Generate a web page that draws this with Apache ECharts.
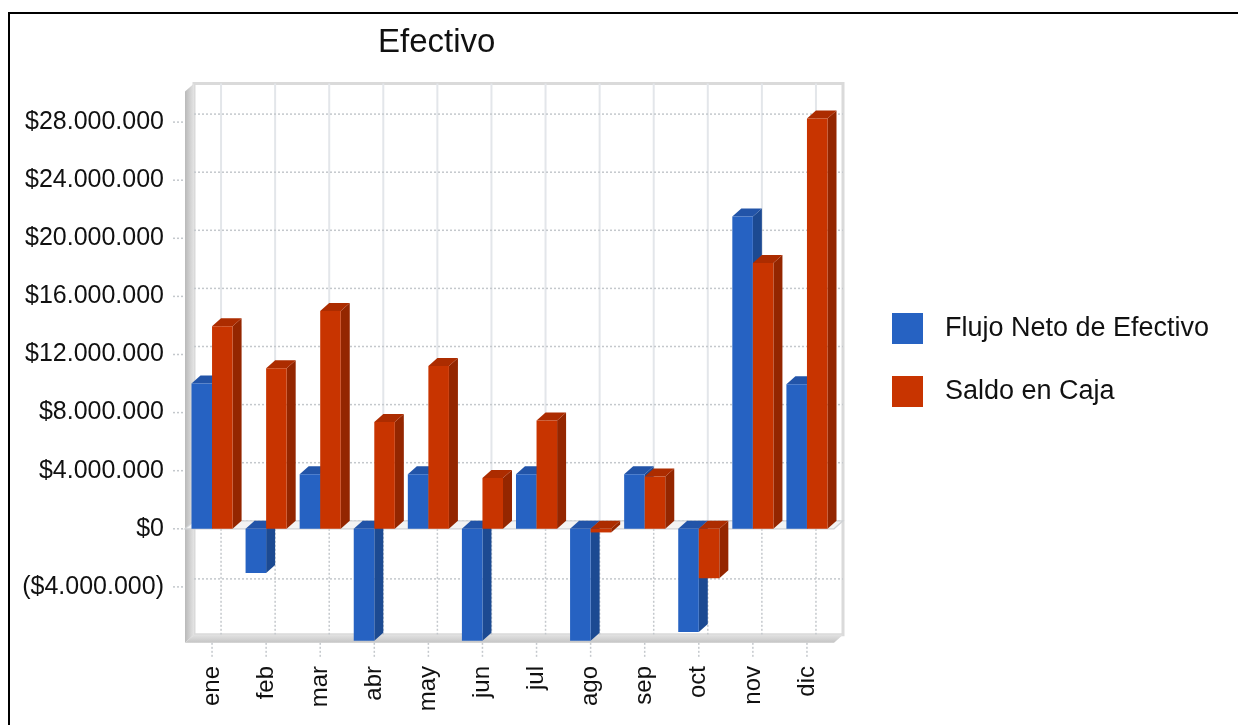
<!DOCTYPE html>
<html>
<head>
<meta charset="utf-8">
<script src="https://cdn.jsdelivr.net/npm/echarts@6/dist/echarts.min.js"></script>
<style>
  html, body { margin: 0; padding: 0; background: #fff; }
  #chart { width: 1238px; height: 725px; }
</style>
</head>
<body>
<div id="chart"></div>
<script>
// Monthly cash figures (pesos)
const months = ['ene', 'feb', 'mar', 'abr', 'may', 'jun', 'jul', 'ago', 'sep', 'oct', 'nov', 'dic'];
const flujoNeto = [10000000, -3050000, 3750000, -7700000, 3750000, -7700000, 3750000, -7700000, 3750000, -7100000, 21500000, 9950000];
const saldoCaja = [13950000, 11050000, 15000000, 7350000, 11200000, 3500000, 7450000, -250000, 3600000, -3400000, 18300000, 28250000];
const yTicks = [-4000000, 0, 4000000, 8000000, 12000000, 16000000, 20000000, 24000000, 28000000];

const FONT = "'Liberation Sans', Arial, sans-serif";
const DX = 9, DY = 8;                 // depth offset of the pseudo-3D box
const WALL_TOP = 30100000, WALL_BOTTOM = -7850000;

function money(v) {
  const s = Math.abs(v).toString().replace(/\B(?=(\d{3})+(?!\d))/g, '.');
  return v < 0 ? '($' + s + ')' : '$' + s;
}

// Walls, floor, zero plane and grid lines of the box
function frameItem(params, api) {
  const band = api.size([1, 0])[0];
  const xl = api.coord([0, 0])[0] - band / 2;
  const xr = api.coord([months.length - 1, 0])[0] + band / 2;
  const yt = api.coord([0, WALL_TOP])[1];
  const yb = api.coord([0, WALL_BOTTOM])[1];
  const y0 = api.coord([0, 0])[1];
  const dotted = { stroke: '#c4c8cc', lineWidth: 1.5, lineDash: [2, 2] };
  const kids = [];
  kids.push({ type: 'rect', shape: { x: xl + DX, y: yt - DY, width: xr - xl, height: yb - yt },
    style: { fill: '#ffffff', stroke: '#dadada', lineWidth: 3 } });
  months.forEach((m, i) => {
    const x = api.coord([i, 0])[0];
    kids.push({ type: 'line', shape: { x1: x + DX, y1: yt - DY, x2: x + DX, y2: y0 - DY },
      style: { stroke: '#e3e6ea', lineWidth: 2 } });
    kids.push({ type: 'line', shape: { x1: x + DX, y1: y0 - DY, x2: x + DX, y2: yb - DY }, style: dotted });
    kids.push({ type: 'line', shape: { x1: x, y1: yb, x2: x, y2: yb + 15 }, style: dotted });
  });
  yTicks.forEach(v => {
    const y = api.coord([0, v])[1];
    kids.push({ type: 'line', shape: { x1: xl + DX, y1: y - DY, x2: xr + DX, y2: y - DY }, style: dotted });
    kids.push({ type: 'line', shape: { x1: xl - 12, y1: y, x2: xl, y2: y }, style: dotted });
  });
  kids.push({ type: 'polygon', shape: { points: [[xl, yt], [xl + DX, yt - DY], [xl + DX, yb - DY], [xl, yb]] },
    style: { fill: new echarts.graphic.LinearGradient(0, 0, 1, 0, [
      { offset: 0, color: '#b9b9b9' }, { offset: 1, color: '#e4e4e4' }]) } });
  kids.push({ type: 'polygon', shape: { points: [[xl, yb], [xl + DX, yb - DY], [xr + DX, yb - DY], [xr, yb]] },
    style: { fill: new echarts.graphic.LinearGradient(0, 0, 0, 1, [
      { offset: 0, color: '#e2e2e2' }, { offset: 1, color: '#c4c4c4' }]) } });
  kids.push({ type: 'polygon', shape: { points: [[xl, y0], [xl + DX, y0 - DY], [xr + DX, y0 - DY], [xr, y0]] },
    style: { fill: '#f3f3f3', stroke: '#cfd2d5', lineWidth: 1.2 } });
  return { type: 'group', children: kids };
}

// One pseudo-3D bar: front face, right side and top
function barRenderer(side, c) {
  return function (params, api) {
    const i = api.value(0), v = api.value(1);
    const band = api.size([1, 0])[0];
    const w = band * 0.38;
    const base = api.coord([i, 0]);
    const tip = api.coord([i, v]);
    const x0 = side < 0 ? base[0] - w : base[0];
    const x1 = x0 + w;
    const yU = Math.min(base[1], tip[1]);
    const yL = Math.max(base[1], tip[1]);
    return { type: 'group', children: [
      { type: 'polygon', shape: { points: [[x1, yU], [x1 + DX, yU - DY], [x1 + DX, yL - DY], [x1, yL]] },
        style: { fill: c.side } },
      { type: 'polygon', shape: { points: [[x0, yU], [x0 + DX, yU - DY], [x1 + DX, yU - DY], [x1, yU]] },
        style: { fill: c.top } },
      { type: 'rect', shape: { x: x0, y: yU, width: w, height: Math.max(yL - yU, 0.5) },
        style: { fill: c.front } }
    ] };
  };
}

const BLUE = { front: '#2662c2', side: '#1c4a92', top: '#2254a8' };
const RED = { front: '#c83400', side: '#942600', top: '#ac2c00' };

const chart = echarts.init(document.getElementById('chart'), null, { renderer: 'canvas' });
chart.setOption({
  animation: false,
  backgroundColor: '#ffffff',
  textStyle: { fontFamily: FONT },
  title: {
    text: 'Efectivo', left: 373, top: 21,
    textStyle: { fontFamily: FONT, fontSize: 33, fontWeight: 'normal', color: '#111' }
  },
  legend: {
    orient: 'vertical', left: 892, top: 313, padding: 0,
    icon: 'rect', itemWidth: 31, itemHeight: 31, itemGap: 32,
    data: ['Flujo Neto de Efectivo', 'Saldo en Caja'],
    textStyle: { fontFamily: FONT, fontSize: 27, color: '#111', padding: [4, 0, 0, 17] }
  },
  grid: { left: 185, right: 404, top: 64, bottom: 80 },
  xAxis: {
    type: 'category', data: months,
    axisLine: { show: false }, axisTick: { show: false }, splitLine: { show: false },
    axisLabel: { rotate: 90, fontSize: 24, margin: 21, color: '#111', fontFamily: FONT }
  },
  yAxis: {
    type: 'value', min: -8000000, max: 32000000, interval: 4000000,
    axisLine: { show: false }, axisTick: { show: false }, splitLine: { show: false },
    axisLabel: {
      fontSize: 25, margin: 21, color: '#111', fontFamily: FONT,
      formatter: v => (yTicks.indexOf(v) >= 0 ? money(v) : '')
    }
  },
  series: [
    { type: 'custom', name: 'frame', silent: true, z: 1, renderItem: frameItem, data: [[0, 0]],
      encode: { x: 0, y: 1 } },
    { type: 'custom', name: 'Flujo Neto de Efectivo', z: 2, itemStyle: { color: BLUE.front },
      renderItem: barRenderer(-1, BLUE), encode: { x: 0, y: 1 },
      data: flujoNeto.map((v, i) => [i, v]) },
    { type: 'custom', name: 'Saldo en Caja', z: 3, itemStyle: { color: RED.front },
      renderItem: barRenderer(1, RED), encode: { x: 0, y: 1 },
      data: saldoCaja.map((v, i) => [i, v]) }
  ],
  graphic: [{
    type: 'rect', z: 100, silent: true,
    shape: { x: 9, y: 13, width: 1400, height: 900 },
    style: { fill: 'none', stroke: '#000', lineWidth: 2 }
  }]
});
</script>
</body>
</html>
